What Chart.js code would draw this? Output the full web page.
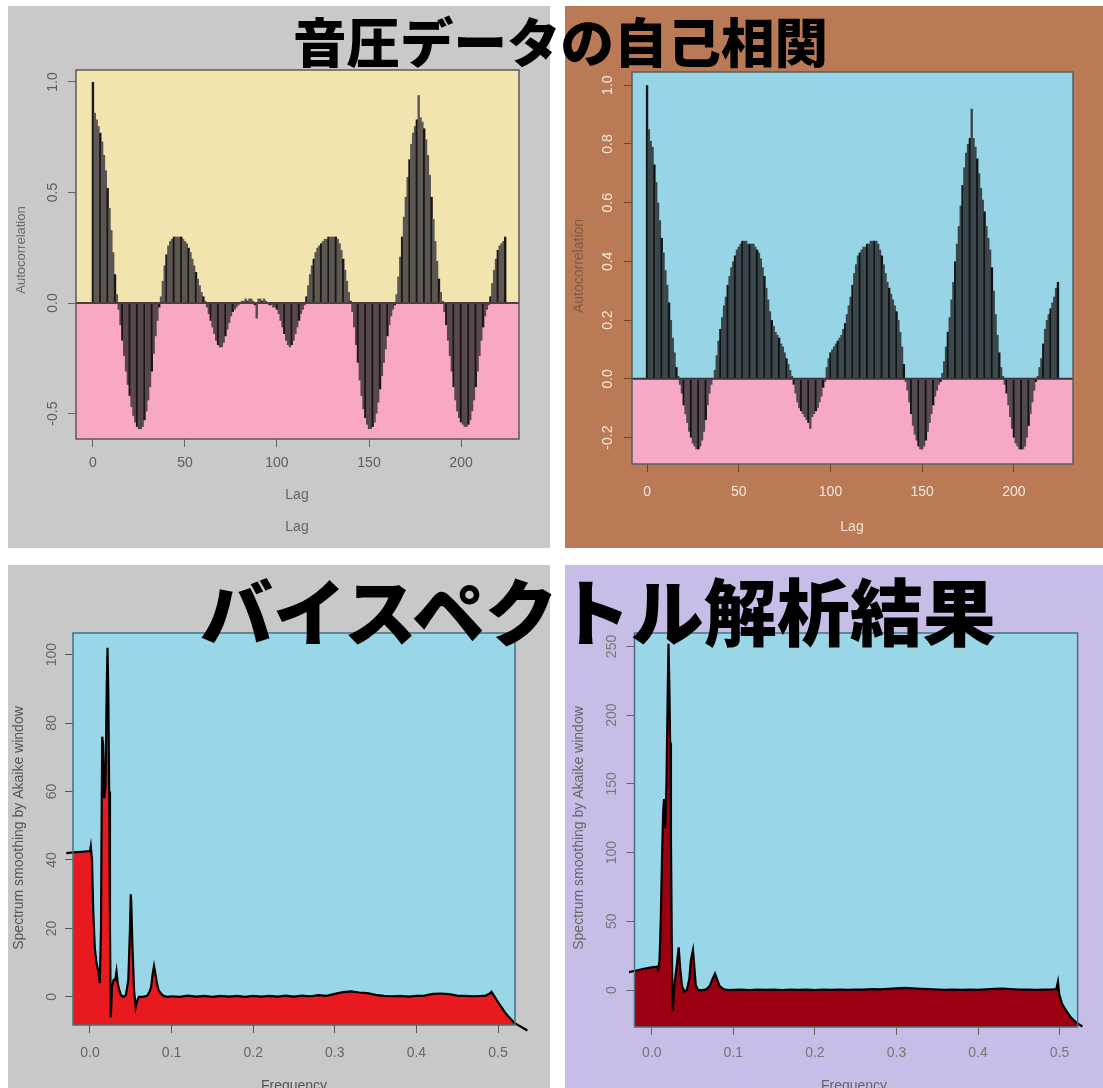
<!DOCTYPE html>
<html>
<head>
<meta charset="utf-8">
<script src="https://cdn.jsdelivr.net/npm/chart.js@4.4.1/dist/chart.umd.min.js"></script>
<style>
  html, body { margin: 0; padding: 0; background: #fff; width: 1103px; height: 1088px; overflow: hidden; }
  body { position: relative; }
  canvas { position: absolute; }
  .ttl { position: absolute; font-family: "Noto Sans CJK JP", sans-serif; font-weight: 900; color: #000;
         white-space: nowrap; line-height: 1; z-index: 5; }
</style>
</head>
<body>
<canvas id="acfA" width="542" height="542" style="left:8px;top:6px"></canvas>
<canvas id="acfB" width="538" height="542" style="left:565px;top:6px"></canvas>
<canvas id="specA" width="542" height="523" style="left:8px;top:565px"></canvas>
<canvas id="specB" width="538" height="523" style="left:565px;top:565px"></canvas>
<div class="ttl" style="left:293px;top:13px;font-size:53.5px">音圧データの自己相関</div>
<div class="ttl" style="left:200px;top:572px;font-size:73px">バイスペクトル解析結果</div>
<script>
// ---- autocorrelation of sound pressure, lags 0..224 ----
const lags = Array.from({ length: 225 }, (_, i) => i);

const acfLeft = [
  1.00, 0.86, 0.83, 0.80, 0.77, 0.73, 0.67, 0.60, 0.52, 0.43,
  0.33, 0.23, 0.13, 0.04, -0.03, -0.10, -0.17, -0.24, -0.31, -0.37,
  -0.42, -0.47, -0.51, -0.54, -0.56, -0.57, -0.57, -0.56, -0.53, -0.49,
  -0.44, -0.38, -0.31, -0.23, -0.15, -0.08, -0.02, 0.03, 0.10, 0.17,
  0.22, 0.26, 0.28, 0.29, 0.30, 0.30, 0.30, 0.30, 0.30, 0.29,
  0.28, 0.27, 0.25, 0.23, 0.20, 0.17, 0.14, 0.11, 0.08, 0.05,
  0.03, 0.01, -0.02, -0.05, -0.08, -0.11, -0.14, -0.17, -0.19, -0.20,
  -0.20, -0.18, -0.15, -0.12, -0.09, -0.06, -0.04, -0.03, -0.02, -0.01,
  0.00, 0.01, 0.01, 0.02, 0.01, 0.02, 0.02, 0.01, -0.01, -0.07,
  0.02, 0.02, 0.01, 0.02, 0.01, 0.00, -0.01, -0.01, -0.02, -0.02,
  -0.03, -0.05, -0.08, -0.11, -0.14, -0.17, -0.19, -0.20, -0.19, -0.17,
  -0.14, -0.11, -0.08, -0.05, -0.03, -0.01, 0.03, 0.08, 0.13, 0.17,
  0.20, 0.23, 0.25, 0.26, 0.27, 0.28, 0.29, 0.29, 0.30, 0.30,
  0.30, 0.30, 0.30, 0.29, 0.27, 0.24, 0.20, 0.15, 0.10, 0.05,
  0.01, -0.04, -0.11, -0.19, -0.27, -0.35, -0.42, -0.48, -0.52, -0.55,
  -0.57, -0.57, -0.56, -0.54, -0.50, -0.45, -0.39, -0.33, -0.27, -0.21,
  -0.15, -0.10, -0.06, -0.03, -0.01, 0.04, 0.12, 0.21, 0.30, 0.39,
  0.48, 0.57, 0.65, 0.72, 0.77, 0.80, 0.83, 0.94, 0.84, 0.82,
  0.79, 0.74, 0.67, 0.58, 0.48, 0.38, 0.28, 0.19, 0.11, 0.05,
  0.01, -0.04, -0.10, -0.17, -0.24, -0.31, -0.38, -0.44, -0.49, -0.52,
  -0.54, -0.55, -0.56, -0.56, -0.55, -0.53, -0.49, -0.44, -0.38, -0.31,
  -0.24, -0.17, -0.11, -0.06, -0.03, -0.01, 0.03, 0.09, 0.15, 0.20,
  0.24, 0.26, 0.27, 0.28, 0.30
];

const acfRight = [
  1.00, 0.85, 0.81, 0.79, 0.73, 0.67, 0.60, 0.54, 0.48, 0.43,
  0.37, 0.32, 0.26, 0.20, 0.14, 0.09, 0.04, 0.01, -0.02, -0.05,
  -0.09, -0.12, -0.15, -0.18, -0.20, -0.22, -0.23, -0.24, -0.24, -0.23,
  -0.21, -0.18, -0.14, -0.09, -0.05, -0.02, 0.00, 0.03, 0.08, 0.13,
  0.17, 0.21, 0.25, 0.28, 0.32, 0.35, 0.38, 0.40, 0.42, 0.44,
  0.45, 0.46, 0.47, 0.47, 0.47, 0.46, 0.46, 0.46, 0.46, 0.45,
  0.44, 0.43, 0.41, 0.38, 0.35, 0.31, 0.27, 0.23, 0.20, 0.18,
  0.16, 0.15, 0.14, 0.12, 0.11, 0.09, 0.07, 0.05, 0.03, 0.01,
  -0.02, -0.05, -0.08, -0.10, -0.11, -0.12, -0.13, -0.14, -0.15, -0.17,
  -0.13, -0.12, -0.11, -0.10, -0.08, -0.06, -0.03, -0.01, 0.04, 0.07,
  0.09, 0.10, 0.11, 0.12, 0.13, 0.14, 0.15, 0.17, 0.19, 0.22,
  0.25, 0.28, 0.32, 0.36, 0.39, 0.42, 0.43, 0.44, 0.45, 0.45,
  0.46, 0.46, 0.47, 0.47, 0.47, 0.47, 0.46, 0.44, 0.42, 0.39,
  0.36, 0.33, 0.31, 0.29, 0.27, 0.25, 0.23, 0.20, 0.16, 0.11,
  0.05, -0.01, -0.04, -0.08, -0.12, -0.16, -0.19, -0.21, -0.23, -0.24,
  -0.24, -0.23, -0.21, -0.18, -0.15, -0.12, -0.09, -0.06, -0.04, -0.02,
  -0.01, 0.02, 0.06, 0.11, 0.16, 0.21, 0.27, 0.33, 0.40, 0.46,
  0.52, 0.59, 0.66, 0.72, 0.77, 0.80, 0.82, 0.92, 0.82, 0.79,
  0.75, 0.70, 0.65, 0.61, 0.57, 0.52, 0.48, 0.44, 0.38, 0.30,
  0.22, 0.15, 0.09, 0.04, 0.01, -0.02, -0.05, -0.09, -0.13, -0.17,
  -0.20, -0.22, -0.23, -0.24, -0.24, -0.24, -0.23, -0.20, -0.16, -0.12,
  -0.08, -0.04, -0.01, 0.01, 0.04, 0.07, 0.12, 0.17, 0.20, 0.22,
  0.24, 0.26, 0.28, 0.31, 0.33
];

const lagTicks = [0, 50, 100, 150, 200];
const lagTickLabels = ['0', '50', '100', '150', '200'];
const acfLeftTicks = [-0.5, 0, 0.5, 1];
const acfLeftTickLabels = ['-0.5', '0.0', '0.5', '1.0'];
const acfRightTicks = [-0.2, 0, 0.2, 0.4, 0.6, 0.8, 1];
const acfRightTickLabels = ['-0.2', '0.0', '0.2', '0.4', '0.6', '0.8', '1.0'];

// ---- smoothed spectra (Akaike window) ----
const freqLeft = [
  -0.029, -0.02, -0.01, 0.0, 0.001, 0.0025, 0.004, 0.006, 0.008, 0.0105,
  0.012, 0.0135, 0.0145, 0.015, 0.016, 0.0175, 0.019, 0.0205, 0.0215, 0.0225,
  0.0235, 0.0245, 0.0255, 0.027, 0.029, 0.031, 0.0325, 0.034, 0.036, 0.038,
  0.041, 0.044, 0.047, 0.049, 0.05, 0.0505, 0.052, 0.054, 0.056, 0.058,
  0.06, 0.065, 0.07, 0.073, 0.075, 0.077, 0.0785, 0.08, 0.082, 0.084,
  0.087, 0.09, 0.095,
  0.10, 0.11, 0.12, 0.13, 0.14, 0.15, 0.16, 0.17, 0.18, 0.19,
  0.20, 0.21, 0.22, 0.23, 0.24, 0.25, 0.26, 0.27, 0.28, 0.29,
  0.30, 0.31, 0.32, 0.33, 0.34, 0.35, 0.36, 0.37, 0.38, 0.39,
  0.40, 0.41, 0.42, 0.43, 0.44, 0.45, 0.46, 0.47, 0.48,
  0.485, 0.49, 0.492, 0.50, 0.51, 0.52, 0.536
];
const specLeft = [
  42, 42.2, 42.4, 42.6, 44, 40, 25, 14, 10, 7,
  4, 20, 60, 76, 74, 58, 62, 90, 102, 88,
  60, 20, -6, 3, 5, 5, 7.5, 4, 2, 0.5,
  0, 0.5, 5, 20, 30, 28, 15, 2, -3, -1,
  0, 0, 0.3, 1.5, 3, 7, 9, 7, 4, 2,
  1, 0.3, 0,
  0.2, 0, 0.4, 0.1, 0.3, 0, 0.3, 0.1, 0.3, 0,
  0.3, 0.1, 0.3, 0.1, 0.4, 0.1, 0.4, 0.2, 0.5, 0.3,
  0.9, 1.4, 1.6, 1.3, 1.1, 0.6, 0.3, 0.2, 0.3, 0.1,
  0.3, 0.4, 0.9, 1.0, 0.8, 0.4, 0.3, 0.2, 0.3,
  0.4, 1.0, 1.5, -1.5, -5, -7.6, -9.8
];

const freqRight = [
  -0.028, -0.02, -0.01, 0.0, 0.006, 0.008, 0.0095, 0.011, 0.0125, 0.014,
  0.015, 0.0165, 0.018, 0.0195, 0.0205, 0.0215, 0.0225, 0.0235, 0.0245, 0.0255,
  0.028, 0.031, 0.033, 0.0345, 0.037, 0.04, 0.043, 0.046, 0.048, 0.0505,
  0.052, 0.054, 0.057, 0.062, 0.067, 0.071, 0.0745, 0.0775, 0.08, 0.083,
  0.087, 0.09, 0.095,
  0.10, 0.11, 0.12, 0.13, 0.14, 0.15, 0.16, 0.17, 0.18, 0.19,
  0.20, 0.21, 0.22, 0.23, 0.24, 0.25, 0.26, 0.27, 0.28, 0.29,
  0.30, 0.31, 0.32, 0.33, 0.34, 0.35, 0.36, 0.37, 0.38, 0.39,
  0.40, 0.41, 0.42, 0.43, 0.44, 0.45, 0.46, 0.47, 0.48,
  0.49, 0.496, 0.498, 0.4995, 0.503, 0.508, 0.514, 0.521, 0.528, 0.536
];
const specRight = [
  13, 14, 15.5, 16.5, 17, 15, 22, 50, 95, 130,
  139, 118, 150, 215, 252, 222, 180, 110, 35, -15,
  5, 20, 31, 18, 3, -1, 0, 8, 22, 29,
  18, 3, 0, 0, 0.5, 3, 8, 12, 8, 3,
  1, 0.3, 0,
  0.1, 0.3, 0, 0.3, 0.1, 0.3, 0, 0.3, 0.1, 0.3,
  0, 0.3, 0.1, 0.4, 0.2, 0.4, 0.3, 0.6, 0.5, 0.9,
  1.2, 1.6, 1.3, 0.9, 0.6, 0.4, 0.2, 0.3, 0.1, 0.3,
  0.2, 0.5, 0.8, 1.0, 0.7, 0.4, 0.3, 0.2, 0.3,
  0.4, 0.6, 6, -3, -10, -15, -20, -24, -26.5, -28.5
];

const freqTicks = [0, 0.1, 0.2, 0.3, 0.4, 0.5];
const freqTickLabels = ['0.0', '0.1', '0.2', '0.3', '0.4', '0.5'];
const specLeftTicks = [0, 20, 40, 60, 80, 100];
const specLeftTickLabels = ['0', '20', '40', '60', '80', '100'];
const specRightTicks = [0, 50, 100, 150, 200, 250];
const specRightTickLabels = ['0', '50', '100', '150', '200', '250'];

// ---- panel decoration: backgrounds, frame, zero line, axis text ----
const FONT = '"Liberation Sans", Arial, sans-serif';
const panelDecor = {
  id: 'panelDecor',
  beforeDraw(chart, args, o) {
    const { ctx, chartArea: a } = chart;
    const y = chart.scales.y;
    ctx.save();
    ctx.fillStyle = o.panel;
    ctx.fillRect(0, 0, chart.width, chart.height);
    if (o.above) {
      const z = y.getPixelForValue(0);
      ctx.fillStyle = o.above;
      ctx.fillRect(a.left, a.top, a.right - a.left, z - a.top);
      ctx.fillStyle = o.below;
      ctx.fillRect(a.left, z, a.right - a.left, a.bottom - z);
    } else {
      ctx.fillStyle = o.plotBg;
      ctx.fillRect(a.left, a.top, a.right - a.left, a.bottom - a.top);
    }
    ctx.restore();
  },
  afterDatasetsDraw(chart, args, o) {
    if (!o.zeroLine) return;
    const { ctx, chartArea: a } = chart;
    const z = chart.scales.y.getPixelForValue(0);
    ctx.save();
    ctx.strokeStyle = o.zeroLine;
    ctx.lineWidth = 2;
    ctx.beginPath();
    ctx.moveTo(a.left, z);
    ctx.lineTo(a.right, z);
    ctx.stroke();
    ctx.restore();
  },
  afterDraw(chart, args, o) {
    const { ctx, chartArea: a } = chart;
    const xs = chart.scales.x, ys = chart.scales.y;
    ctx.save();
    ctx.strokeStyle = o.frame;
    ctx.lineWidth = 1.5;
    ctx.strokeRect(a.left, a.top, a.right - a.left, a.bottom - a.top);

    ctx.font = '14px ' + FONT;
    ctx.fillStyle = o.tickColor;
    ctx.textAlign = 'center';
    ctx.textBaseline = 'middle';
    xs.ticks.forEach((t, i) => {
      ctx.fillText(o.xLabels[i], xs.getPixelForValue(t.value), o.xLabelY);
    });
    ys.ticks.forEach((t, i) => {
      ctx.save();
      ctx.translate(o.yLabelX, ys.getPixelForValue(t.value));
      ctx.rotate(-Math.PI / 2);
      ctx.fillText(o.yLabels[i], 0, 0);
      ctx.restore();
    });

    ctx.font = o.yTitleSize + 'px ' + FONT;
    ctx.fillStyle = o.yTitleColor;
    ctx.save();
    ctx.translate(o.yTitleX, o.yTitleY);
    ctx.rotate(-Math.PI / 2);
    ctx.fillText(o.yTitle, 0, 0);
    ctx.restore();

    ctx.font = '14px ' + FONT;
    ctx.fillStyle = o.xTitleColor;
    o.xTitles.forEach(tt => ctx.fillText(tt.text, tt.x, tt.y));
    ctx.restore();
  }
};
Chart.register(panelDecor);

function axisOpts(min, max, ticks, size, isY, tickColor) {
  return {
    type: 'linear', min, max, offset: false,
    afterBuildTicks: s => { s.ticks = ticks.map(v => ({ value: v })); },
    afterFit: s => { if (isY) s.width = size; else s.height = size; },
    ticks: { display: false },
    grid: { drawOnChartArea: false, drawTicks: true, tickLength: 8, color: tickColor, lineWidth: 1, offset: false },
    border: { display: false }
  };
}

function baseOptions(cfg) {
  return {
    responsive: false, animation: false, devicePixelRatio: 1,
    events: [],
    layout: { padding: { left: 0, top: cfg.top, right: cfg.right, bottom: 0 } },
    plugins: { legend: { display: false }, tooltip: { enabled: false }, panelDecor: cfg.decor },
    scales: {
      x: axisOpts(cfg.xMin, cfg.xMax, cfg.xTicks, cfg.xH, false, cfg.tickMark),
      y: axisOpts(cfg.yMin, cfg.yMax, cfg.yTicks, cfg.yW, true, cfg.tickMark)
    }
  };
}

// bars slightly wider than one lag so neighbouring lags merge into a solid band,
// with every fourth lag drawn darker
function acfChart(id, values, colors, cfg) {
  new Chart(document.getElementById(id), {
    type: 'bar',
    data: {
      datasets: [{
        data: lags.map((l, i) => ({ x: l, y: values[i] })),
        backgroundColor: c => (c.dataIndex % 4 === 0 ? colors.line : (c.parsed && c.parsed.y < 0 ? colors.neg : colors.pos)),
        borderWidth: 0, barPercentage: 1.3, categoryPercentage: 1
      }]
    },
    options: baseOptions(cfg)
  });
}

function specChart(id, freq, spec, fillColor, cfg) {
  new Chart(document.getElementById(id), {
    type: 'line',
    data: {
      datasets: [{
        data: freq.map((f, i) => ({ x: f, y: spec[i] })),
        borderColor: '#000', borderWidth: 2.2, backgroundColor: fillColor,
        fill: 'start', pointRadius: 0, tension: 0, clip: false
      }]
    },
    options: baseOptions(cfg)
  });
}

acfChart('acfA', acfLeft, { line: '#1a1715', pos: '#5b5651', neg: '#58464e' }, {
  top: 64, right: 31, yW: 68, xH: 109,
  xMin: -9.2, xMax: 231.5, yMin: -0.615, yMax: 1.054,
  xTicks: lagTicks, yTicks: acfLeftTicks, tickMark: '#666',
  decor: {
    panel: '#c9c9c9', above: '#f2e4ae', below: '#f8a8c4', frame: '#5d5a50', zeroLine: '#4e3e3c',
    tickColor: '#5e5e5e', xLabels: lagTickLabels, yLabels: acfLeftTickLabels,
    xLabelY: 457, yLabelX: 45,
    yTitle: 'Autocorrelation', yTitleX: 13, yTitleY: 244, yTitleSize: 13, yTitleColor: '#6a6a6a',
    xTitleColor: '#666', xTitles: [{ text: 'Lag', x: 289, y: 489 }, { text: 'Lag', x: 289, y: 521 }]
  }
});

acfChart('acfB', acfRight, { line: '#0f1416', pos: '#3b464a', neg: '#554853' }, {
  top: 66, right: 30, yW: 67, xH: 84,
  xMin: -8.2, xMax: 232.2, yMin: -0.29, yMax: 1.045,
  xTicks: lagTicks, yTicks: acfRightTicks, tickMark: '#6b4530',
  decor: {
    panel: '#b97a55', above: '#96d4e6', below: '#f7a8c6', frame: '#4f5f63', zeroLine: '#3a3434',
    tickColor: '#f3e8de', xLabels: lagTickLabels, yLabels: acfRightTickLabels,
    xLabelY: 486, yLabelX: 43,
    yTitle: 'Autocorrelation', yTitleX: 14, yTitleY: 260, yTitleSize: 14, yTitleColor: '#7d5a48',
    xTitleColor: '#eee0d4', xTitles: [{ text: 'Lag', x: 287, y: 521 }]
  }
});

specChart('specA', freqLeft, specLeft, '#e8191f', {
  top: 68, right: 35, yW: 65, xH: 63,
  xMin: -0.0208, xMax: 0.5208, yMin: -8.2, yMax: 106.3,
  xTicks: freqTicks, yTicks: specLeftTicks, tickMark: '#555',
  decor: {
    panel: '#c8c8c8', plotBg: '#99d7e8', frame: '#41707e',
    tickColor: '#666', xLabels: freqTickLabels, yLabels: specLeftTickLabels,
    xLabelY: 488, yLabelX: 44,
    yTitle: 'Spectrum smoothing by Akaike window', yTitleX: 11, yTitleY: 263, yTitleSize: 14, yTitleColor: '#555',
    xTitleColor: '#555', xTitles: [{ text: 'Frequency', x: 286, y: 521 }]
  }
});

specChart('specB', freqRight, specRight, '#9c0010', {
  top: 68, right: 25.4, yW: 69.5, xH: 61,
  xMin: -0.0212, xMax: 0.5221, yMin: -26.9, yMax: 259.8,
  xTicks: freqTicks, yTicks: specRightTicks, tickMark: '#666',
  decor: {
    panel: '#c7bde6', plotBg: '#99d7e8', frame: '#4a7080',
    tickColor: '#777', xLabels: freqTickLabels, yLabels: specRightTickLabels,
    xLabelY: 488, yLabelX: 47,
    yTitle: 'Spectrum smoothing by Akaike window', yTitleX: 14, yTitleY: 263, yTitleSize: 14, yTitleColor: '#666',
    xTitleColor: '#666', xTitles: [{ text: 'Frequency', x: 289, y: 521 }]
  }
});
</script>
</body>
</html>
